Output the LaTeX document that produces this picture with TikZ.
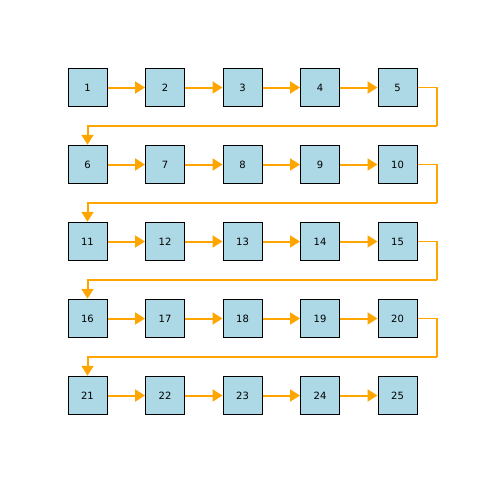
\documentclass[tikz,border=0pt]{standalone}
\usepackage{fontspec}
\setmainfont{DejaVu Sans}
\usetikzlibrary{arrows.meta}
\definecolor{boxblue}{HTML}{ADD8E6}
\definecolor{arrorange}{HTML}{FFA500}
\tikzset{
  cell/.style={draw=black, line width=1pt, fill=boxblue, minimum width=39pt, minimum height=38.5pt, inner sep=0pt, font=\fontsize{10pt}{12pt}\selectfont},
  flow/.style={draw=arrorange, line width=2pt, -{Triangle[length=10pt,width=12pt]}},
  wrapline/.style={draw=arrorange, line width=1.6pt},
}
\begin{document}
\begin{tikzpicture}[x=1pt,y=-1pt]
\useasboundingbox (0,0) rectangle (484,482);
\foreach \r in {0,...,4}{
  \foreach \c in {0,...,4}{
    \pgfmathtruncatemacro{\n}{\r*5+\c+1}
    \node[cell] (b\n) at ({87.5+77.5*\c},{87.5+77*\r}) {\n};
  }
}
\foreach \r in {0,...,4}{
  \foreach \c in {1,...,4}{
    \pgfmathtruncatemacro{\a}{\r*5+\c}
    \pgfmathtruncatemacro{\b}{\r*5+\c+1}
    \draw[flow] (b\a.east) -- (b\b.west);
  }
}
\foreach \r in {0,...,3}{
  \pgfmathtruncatemacro{\a}{\r*5+5}
  \pgfmathtruncatemacro{\b}{\r*5+6}
  \coordinate (m\r) at ({436.7},{126+77*\r});
  \draw[wrapline] (b\a.east) -| (m\r);
  \draw[flow] (m\r) -| (b\b.north);
}
\end{tikzpicture}
\end{document}
